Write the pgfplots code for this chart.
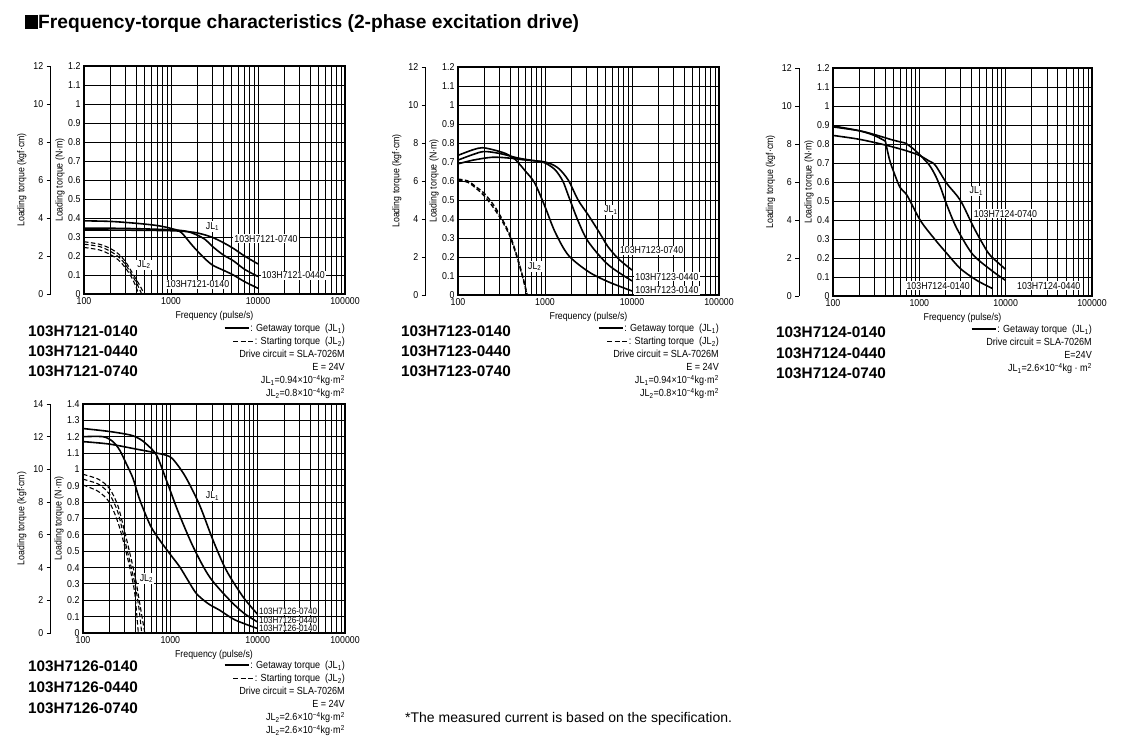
\documentclass[border=0pt]{standalone}
\usepackage{fontspec}
\setmainfont{Liberation Sans}
\newfontfamily\cond{Liberation Sans}[FakeStretch=0.88]
\usepackage{pgfplots}
\pgfplotsset{compat=1.18}

\newcommand{\tickfont}{\cond\fontsize{10}{11}\selectfont}
\newcommand{\smallfont}{\cond\fontsize{9.2}{10}\selectfont}
\newcommand{\legfont}{\cond\fontsize{10.3}{13}\selectfont}
\newcommand{\modfont}{\bfseries\fontsize{15.3}{18}\selectfont}
\newcommand{\solidsample}{\rule[2.6pt]{24pt}{1.7pt}}
\newcommand{\dashsample}{\rule[2.6pt]{5pt}{1.2pt}\hspace{2.5pt}\rule[2.6pt]{5pt}{1.2pt}\hspace{2.5pt}\rule[2.6pt]{5pt}{1.2pt}}

\tikzset{
  jlone/.style={black, line width=1.6pt, smooth, mark=none},
  jltwo/.style={black, line width=1.1pt, dash pattern=on 4.5pt off 2.5pt, smooth, mark=none},
  clab/.style={font=\tickfont, fill=white, inner sep=1pt},
  modn/.style={anchor=base west, inner sep=0, font=\modfont},
}

\newcommand{\mainaxis}[1]{\begin{axis}[
    scale only axis, width=261pt, height=228pt,
    xmode=log, xmin=100, xmax=100000,
    xtick={100,1000,10000,100000}, xticklabels={100,1000,10000,100000},
    minor xtick={200,300,400,500,600,700,800,900,2000,3000,4000,5000,6000,7000,8000,9000,20000,30000,40000,50000,60000,70000,80000,90000},
    ymin=0, ymax=1.2,
    ytick={0,0.1,0.2,0.3,0.4,0.5,0.6,0.7,0.8,0.9,1,1.1,1.2},
    yticklabels={0,0.1,0.2,0.3,0.4,0.5,0.6,0.7,0.8,0.9,1,1.1,1.2},
    grid=both,
    major grid style={line width=0.9pt, black},
    minor grid style={line width=0.65pt, black},
    axis line style={line width=1.4pt},
    major tick length=0pt, minor tick length=0pt,
    tick label style={font=\tickfont},
    label style={font=\tickfont},
    xlabel={Frequency (pulse/s)},
    ylabel={Loading torque (N·m)},
    ylabel style={inner sep=0pt},
    /pgf/number format/assume math mode=true,
    #1]}

\newcommand{\secaxis}[1]{\begin{axis}[
    scale only axis, width=1pt, height=228pt,
    xmin=0, xmax=1, ymin=0, ymax=12,
    ytick={0,2,4,6,8,10,12}, yticklabels={0,2,4,6,8,10,12},
    xtick=\empty,
    axis x line=none, axis y line*=left,
    y axis line style={-, line width=1.1pt},
    tick align=outside, major tick length=4pt,
    tick style={black, line width=0.9pt},
    tick label style={font=\tickfont},
    label style={font=\tickfont},
    ylabel={Loading torque (kgf·cm)},
    /pgf/number format/assume math mode=true,
    #1]\end{axis}}

\begin{document}
\begin{tikzpicture}
\path[use as bounding box] (0pt,0pt) rectangle (1122pt,751pt);

% ---------- title ----------
\node[anchor=base west, inner sep=0, font=\bfseries\fontsize{19.2}{20}\selectfont] at (25pt,722pt)
  {\rule{13pt}{13.6pt}Frequency-torque characteristics (2-phase excitation drive)};

% ================= Plot 1: 103H7121 =================
\secaxis{at={(50.7pt,457pt)}, anchor=south west}
\mainaxis{at={(84pt,457pt)}, anchor=south west}
\addplot[jlone] coordinates {(100,0.385) (200,0.382) (400,0.372) (700,0.36) (1000,0.345) (1300,0.325) (1800,0.25) (2400,0.19) (3000,0.152) (4000,0.125) (5200,0.10) (7000,0.065) (10000,0.03)};
\addplot[jlone] coordinates {(100,0.347) (300,0.345) (1000,0.338) (1500,0.33) (2000,0.31) (2500,0.285) (3000,0.25) (4000,0.205) (5200,0.175) (7000,0.13) (10000,0.092)};
\addplot[jlone] coordinates {(100,0.337) (300,0.336) (1000,0.333) (1800,0.325) (2500,0.31) (3000,0.298) (4000,0.27) (5200,0.24) (7000,0.2) (10000,0.158)};
\addplot[jltwo] coordinates {(100,0.275) (150,0.262) (200,0.24) (250,0.21) (300,0.17) (350,0.12) (400,0.075) (450,0.035) (490,0)};
\addplot[jltwo] coordinates {(100,0.262) (150,0.25) (200,0.225) (250,0.195) (300,0.155) (350,0.105) (400,0.06) (460,0)};
\addplot[jltwo] coordinates {(100,0.245) (150,0.232) (200,0.208) (250,0.178) (300,0.137) (350,0.09) (390,0.045) (425,0)};
\node[clab] at (axis cs:3000,0.355) {JL\textsubscript{1}};
\node[clab] at (axis cs:490,0.154) {JL\textsubscript{2}};
\node[clab, anchor=west] at (axis cs:5200,0.29) {103H7121-0740};
\node[clab, anchor=west] at (axis cs:10700,0.098) {103H7121-0440};
\node[clab, anchor=west] at (axis cs:850,0.05) {103H7121-0140};
\end{axis}

% ================= Plot 2: 103H7123 =================
\secaxis{at={(425.7pt,456pt)}, anchor=south west}
\mainaxis{at={(458pt,456pt)}, anchor=south west}
\addplot[jlone] coordinates {(100,0.735) (150,0.765) (190,0.775) (250,0.765) (350,0.745) (450,0.715) (600,0.65) (760,0.59) (1000,0.465) (1300,0.333) (1850,0.21) (3150,0.123) (5300,0.07) (10000,0.021)};
\addplot[jlone] coordinates {(100,0.71) (150,0.74) (200,0.755) (300,0.745) (500,0.72) (800,0.705) (1000,0.695) (1300,0.66) (1600,0.6) (1850,0.525) (2400,0.39) (3150,0.28) (5300,0.16) (10000,0.074)};
\addplot[jlone] coordinates {(100,0.69) (150,0.71) (250,0.725) (400,0.72) (600,0.71) (1000,0.70) (1400,0.67) (1850,0.605) (2400,0.5) (3150,0.42) (4200,0.33) (5300,0.254) (7000,0.19) (10000,0.131)};
\addplot[jltwo, line width=1.4pt] coordinates {(100,0.61) (130,0.60) (160,0.57) (200,0.535) (260,0.47) (330,0.39) (400,0.31) (480,0.2) (560,0.09) (625,0)};
\addplot[jltwo, line width=1.4pt] coordinates {(100,0.605) (130,0.593) (160,0.563) (200,0.522) (260,0.455) (330,0.38) (400,0.303) (480,0.193) (560,0.085) (620,0)};
\node[clab] at (axis cs:5710,0.447) {JL\textsubscript{1}};
\node[clab] at (axis cs:762,0.149) {JL\textsubscript{2}};
\node[clab, anchor=west] at (axis cs:7060,0.236) {103H7123-0740};
\node[clab, anchor=west] at (axis cs:10600,0.096) {103H7123-0440};
\node[clab, anchor=west] at (axis cs:10600,0.026) {103H7123-0140};
\end{axis}

% ================= Plot 3: 103H7124 =================
\secaxis{at={(799.3pt,455pt)}, anchor=south west}
\mainaxis{width=259pt, at={(833pt,455pt)}, anchor=south west}
\addplot[jlone] coordinates {(100,0.895) (200,0.87) (300,0.845) (404,0.815)};
\addplot[jlone] coordinates {(404,0.815) (450,0.72) (505,0.653) (600,0.57) (720,0.53) (1026,0.398) (1500,0.3) (2090,0.223) (2990,0.144) (4640,0.082) (7070,0.039)};
\addplot[jlone] coordinates {(100,0.89) (200,0.87) (300,0.85) (500,0.82) (690,0.805)};
\addplot[jlone] coordinates {(690,0.805) (850,0.775) (1000,0.745) (1300,0.69) (1550,0.63) (1800,0.56) (2000,0.5) (2500,0.39) (3000,0.32) (4240,0.214) (7260,0.126) (10000,0.082)};
\addplot[jlone] coordinates {(100,0.845) (200,0.825) (400,0.795) (700,0.765) (1000,0.74) (1300,0.71) (1532,0.688) (2090,0.591) (2990,0.503) (4240,0.363) (5500,0.27) (6620,0.214) (10000,0.14)};
\node[clab] at (axis cs:4575,0.551) {JL\textsubscript{1}};
\node[clab, anchor=west] at (axis cs:4150,0.433) {103H7124-0740};
\node[clab, anchor=west] at (axis cs:689,0.053) {103H7124-0140};
\node[clab, anchor=west] at (axis cs:13180,0.053) {103H7124-0440};
\end{axis}

% ================= Plot 4: 103H7126 =================
\secaxis{height=229pt, ymax=14, ytick={0,2,4,6,8,10,12,14}, yticklabels={0,2,4,6,8,10,12,14}, at={(50.7pt,118pt)}, anchor=south west}
\mainaxis{width=262pt, height=229pt, ymax=1.4,
  ytick={0,0.1,0.2,0.3,0.4,0.5,0.6,0.7,0.8,0.9,1,1.1,1.2,1.3,1.4},
  yticklabels={0,0.1,0.2,0.3,0.4,0.5,0.6,0.7,0.8,0.9,1,1.1,1.2,1.3,1.4},
  at={(83pt,118pt)}, anchor=south west}
\addplot[jlone] coordinates {(100,1.20) (170,1.20) (220,1.17) (263,1.118) (310,1.04) (374,0.945) (430,0.84) (488,0.761) (600,0.65) (757,0.567) (1000,0.48) (1282,0.404) (1600,0.32) (1989,0.241) (2700,0.18) (3680,0.139) (5500,0.08) (10000,0.027)};
\addplot[jlone] coordinates {(100,1.25) (200,1.232) (350,1.21) (450,1.185) (532,1.155) (693,1.088) (900,0.935) (1230,0.741) (1826,0.527) (2812,0.343) (4800,0.2) (7000,0.12) (10000,0.067)};
\addplot[jlone] coordinates {(100,1.17) (200,1.155) (400,1.125) (700,1.10) (985,1.078) (1200,1.03) (1528,0.945) (2163,0.782) (3083,0.567) (4370,0.384) (6820,0.22) (10000,0.114)};
\addplot[jltwo] coordinates {(100,0.97) (150,0.94) (200,0.885) (250,0.78) (300,0.62) (350,0.47) (400,0.33) (450,0.17) (510,0)};
\addplot[jltwo] coordinates {(100,0.94) (150,0.91) (200,0.85) (250,0.74) (300,0.57) (350,0.42) (400,0.28) (440,0.14) (470,0)};
\addplot[jltwo] coordinates {(100,0.905) (150,0.865) (200,0.80) (250,0.68) (300,0.53) (350,0.38) (390,0.25) (410,0.13) (430,0)};
\node[clab] at (axis cs:3040,0.837) {JL\textsubscript{1}};
\node[clab] at (axis cs:532,0.333) {JL\textsubscript{2}};
\node[font=\smallfont, inner sep=0pt, fill=white, anchor=west] at (axis cs:10330,0.131) {103H7126-0740};
\node[font=\smallfont, inner sep=0pt, fill=white, anchor=west] at (axis cs:10330,0.080) {103H7126-0440};
\node[font=\smallfont, inner sep=0pt, fill=white, anchor=west] at (axis cs:10330,0.031) {103H7126-0140};
\end{axis}

% ---------- model names ----------
\node[modn] at (28pt,414pt) {103H7121-0140};
\node[modn] at (28pt,394pt) {103H7121-0440};
\node[modn] at (28pt,374pt) {103H7121-0740};
\node[modn] at (401pt,414pt) {103H7123-0140};
\node[modn] at (401pt,394pt) {103H7123-0440};
\node[modn] at (401pt,374pt) {103H7123-0740};
\node[modn] at (776pt,413pt) {103H7124-0140};
\node[modn] at (776pt,392.5pt) {103H7124-0440};
\node[modn] at (776pt,372pt) {103H7124-0740};
\node[modn] at (28pt,79pt) {103H7126-0140};
\node[modn] at (28pt,58pt) {103H7126-0440};
\node[modn] at (28pt,37pt) {103H7126-0740};

% ---------- legends ----------
\node[anchor=north east, inner sep=0, align=right, font=\legfont] at (345pt,427pt)
 {\solidsample\,: Getaway torque\hspace{5pt}(JL\textsubscript{1})\\
  \dashsample\,: Starting torque\hspace{5pt}(JL\textsubscript{2})\\
  Drive circuit = SLA-7026M\\ E = 24V\\
  JL\textsubscript{1}=0.94×10\textsuperscript{−4}kg·m\textsuperscript{2}\\
  JL\textsubscript{2}=0.8×10\textsuperscript{−4}kg·m\textsuperscript{2}};
\node[anchor=north east, inner sep=0, align=right, font=\legfont] at (719pt,427pt)
 {\solidsample\,: Getaway torque\hspace{5pt}(JL\textsubscript{1})\\
  \dashsample\,: Starting torque\hspace{5pt}(JL\textsubscript{2})\\
  Drive circuit = SLA-7026M\\ E = 24V\\
  JL\textsubscript{1}=0.94×10\textsuperscript{−4}kg·m\textsuperscript{2}\\
  JL\textsubscript{2}=0.8×10\textsuperscript{−4}kg·m\textsuperscript{2}};
\node[anchor=north east, inner sep=0, align=right, font=\legfont] at (1092pt,426pt)
 {\solidsample\,: Getaway torque\hspace{5pt}(JL\textsubscript{1})\\
  Drive circuit = SLA-7026M\\ E=24V\\
  JL\textsubscript{1}=2.6×10\textsuperscript{−4}kg · m\textsuperscript{2}};
\node[anchor=north east, inner sep=0, align=right, font=\legfont] at (345pt,90pt)
 {\solidsample\,: Getaway torque\hspace{5pt}(JL\textsubscript{1})\\
  \dashsample\,: Starting torque\hspace{5pt}(JL\textsubscript{2})\\
  Drive circuit = SLA-7026M\\ E = 24V\\
  JL\textsubscript{2}=2.6×10\textsuperscript{−4}kg·m\textsuperscript{2}\\
  JL\textsubscript{2}=2.6×10\textsuperscript{−4}kg·m\textsuperscript{2}};

% ---------- footnote ----------
\node[anchor=base west, inner sep=0, font=\fontsize{14}{16}\selectfont] at (405pt,28pt)
 {*The measured current is based on the specification.};
\end{tikzpicture}
\end{document}
